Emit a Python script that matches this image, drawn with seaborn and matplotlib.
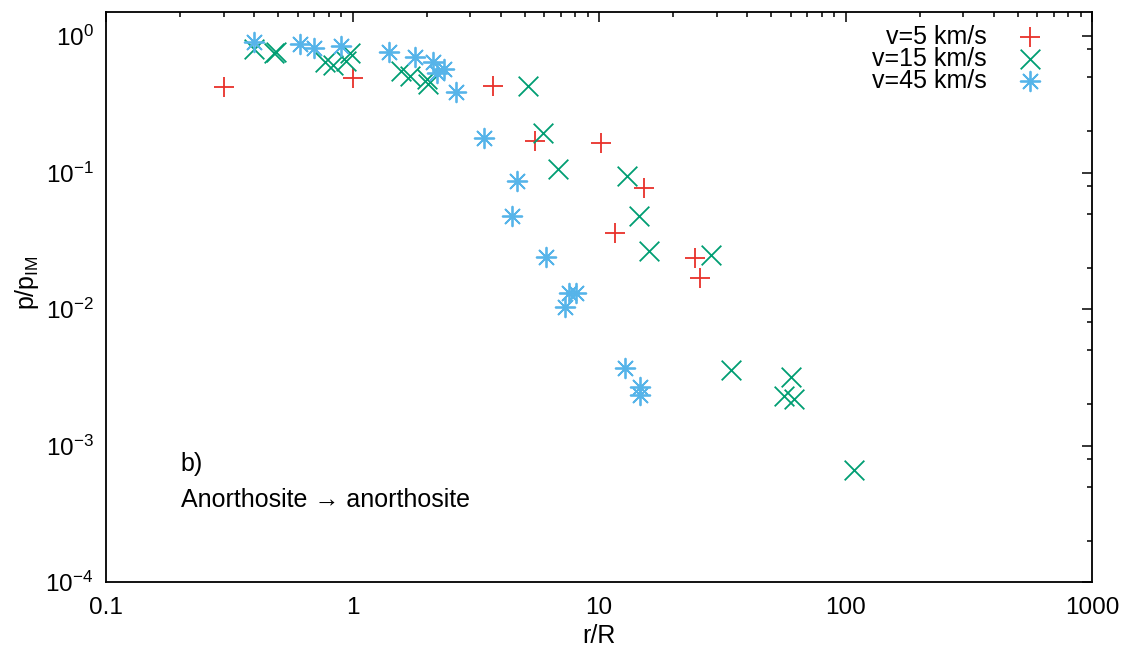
import matplotlib
matplotlib.use('Agg')

import matplotlib.pyplot as plt
from matplotlib.ticker import LogLocator, FuncFormatter, NullFormatter, LogFormatterSciNotation
import seaborn as sns
import pandas as pd

# v=5 km/s
r_v5 = [0.30, 1.0, 3.73, 5.5, 10.2, 15.2, 11.6, 24.5, 25.7]
p_v5 = [0.42, 0.49, 0.43, 0.171, 0.165, 0.077, 0.036, 0.0236, 0.017]

# v=15 km/s
r_v15 = [0.40, 0.48, 0.49, 0.77, 0.83, 0.98, 0.94, 1.58, 1.71, 2.0, 2.03,
         5.17, 5.95, 6.8, 13.0, 14.5, 15.9, 28.6, 34.3, 60.0, 56.5, 62.0, 108.0]
p_v15 = [0.80, 0.755, 0.77, 0.646, 0.614, 0.75, 0.657, 0.555, 0.51, 0.483, 0.444,
         0.432, 0.194, 0.107, 0.094, 0.048, 0.0266, 0.0248, 0.0036, 0.0032, 0.0023, 0.0022, 0.00066]

# v=45 km/s
r_v45 = [0.40, 0.61, 0.70, 0.90, 1.40, 1.79, 2.13, 2.20, 2.34, 2.63, 3.42,
         4.64, 4.44, 6.1, 7.58, 8.1, 7.26, 12.75, 14.6, 14.6]
p_v45 = [0.91, 0.87, 0.82, 0.845, 0.77, 0.70, 0.64, 0.54, 0.57, 0.386, 0.178,
         0.086, 0.048, 0.024, 0.0132, 0.0132, 0.0104, 0.0037, 0.0027, 0.00236]

series = [
    ('v=5 km/s', r_v5, p_v5, '+', '#e8302a'),
    ('v=15 km/s', r_v15, p_v15, 'x', '#009e73'),
    ('v=45 km/s', r_v45, p_v45, (8, 2, 0), '#56b4e9'),
]

sns.set_theme(style='white')
plt.rcParams['font.family'] = ['Liberation Sans', 'DejaVu Sans']
plt.rcParams['mathtext.fontset'] = 'custom'
plt.rcParams['mathtext.rm'] = 'Liberation Sans'
plt.rcParams['mathtext.it'] = 'Liberation Sans'
plt.rcParams['mathtext.default'] = 'regular'
plt.rcParams['text.color'] = 'black'
plt.rcParams['axes.labelcolor'] = 'black'

fig = plt.figure(figsize=(11.32, 6.54), dpi=100)
ax = fig.add_axes([106 / 1132, 1 - 582 / 654, 986 / 1132, 570 / 654])

for name, r, p, mk, col in series:
    df = pd.DataFrame({'r': r, 'p': p})
    sns.scatterplot(data=df, x='r', y='p', marker=mk, color=col, s=200,
                    linewidth=1.3, label=name, ax=ax)

ax.set_xscale('log')
ax.set_yscale('log')
ax.set_xlim(0.1, 1000)
ax.set_ylim(1e-4, 1.5)

ax.xaxis.set_major_locator(LogLocator(base=10, numticks=10))
ax.xaxis.set_minor_locator(LogLocator(base=10, subs=range(2, 10), numticks=50))
ax.xaxis.set_major_formatter(FuncFormatter(lambda v, _: f'{v:g}'))
ax.xaxis.set_minor_formatter(NullFormatter())
ax.yaxis.set_major_locator(LogLocator(base=10, numticks=10))
ax.yaxis.set_minor_locator(LogLocator(base=10, subs=(2, 5, 8), numticks=50))
ax.yaxis.set_major_formatter(LogFormatterSciNotation())
ax.yaxis.set_minor_formatter(NullFormatter())

ax.tick_params(which='both', direction='in', top=True, right=True, colors='black',
               width=1.1)
ax.tick_params(which='major', length=7, labelsize=17.5)
ax.tick_params(axis='x', which='major', pad=11)
ax.tick_params(axis='y', which='major', pad=9)
ax.tick_params(which='minor', length=3.6)
for s in ax.spines.values():
    s.set_color('black')
    s.set_linewidth(1.3)

ax.set_xlabel('r/R', fontsize=18)
ax.set_ylabel(r'p/p$_{IM}$', fontsize=18)
ax.xaxis.set_label_coords(0.5, -0.073)
ax.yaxis.set_label_coords(-0.066, 0.525)

ax.text(0.076, 0.207, 'b)', transform=ax.transAxes, fontsize=18, va='center')
ax.text(0.076, 0.144, 'Anorthosite \u2192 anorthosite', transform=ax.transAxes,
        fontsize=18, va='center')

ax.legend(loc='upper right', bbox_to_anchor=(0.9665, 0.995), borderaxespad=0,
          markerfirst=False, frameon=False, fontsize=18,
          labelspacing=-0.08, handletextpad=1.0, handlelength=1.5)

fig.savefig('out.png', dpi=100)
